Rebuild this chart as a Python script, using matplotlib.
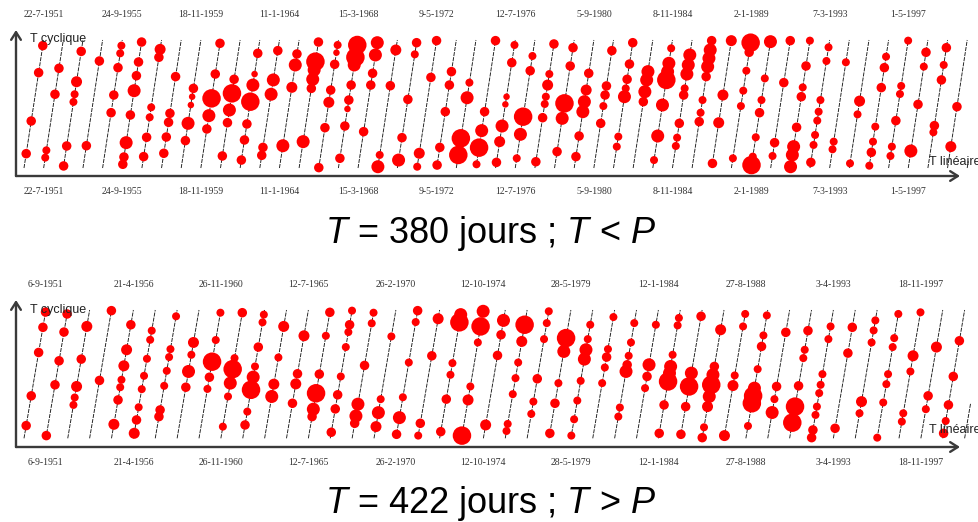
import matplotlib
matplotlib.use("Agg")
import matplotlib.pyplot as plt
import numpy as np

plt.rcParams['mathtext.fontset'] = 'custom'
plt.rcParams['mathtext.it'] = 'Liberation Sans:italic'
plt.rcParams['mathtext.rm'] = 'Liberation Sans'
plt.rcParams['font.family'] = ['Liberation Sans', 'DejaVu Sans']

# ---------------- data ----------------
span_days = 18260  # total linear time span covered

# T = 380 days: per cycle, phase (0..1) of each event and magnitude class
period_a = 380
labels_a = ["22-7-1951", "24-9-1955", "18-11-1959", "11-1-1964", "15-3-1968", "9-5-1972",
            "12-7-1976", "5-9-1980", "8-11-1984", "2-1-1989", "7-3-1993", "1-5-1997"]
phase_a = [
    [0.956, 0.745, 0.367, 0.112],
    [0.779, 0.576, 0.138, 0.081],
    [0.911, 0.674, 0.576, 0.516, 0.172, 0.016],
    [0.836, 0.174],
    [0.956, 0.896, 0.784, 0.570, 0.432],
    [0.198, 0.086, 0.029, 0.984, 0.828, 0.721, 0.604, 0.414],
    [0.474, 0.396, 0.240, 0.089, 0.927, 0.865],
    [0.714, 0.427, 0.357, 0.242, 0.115],
    [0.622, 0.557, 0.492, 0.349, 0.214],
    [0.974, 0.734, 0.544, 0.409, 0.305],
    [0.693, 0.583, 0.453, 0.354, 0.094],
    [0.734, 0.648, 0.518, 0.344, 0.219, 0.062, 0.896],
    [0.688, 0.576, 0.161, 0.099, 0.917],
    [0.891, 0.805, 0.630, 0.174],
    [0.984, 0.831, 0.766, 0.693, 0.622, 0.206],
    [0.961, 0.901, 0.810, 0.609, 0.513, 0.315, 0.003],
    [0.961, 0.865, 0.805, 0.648, 0.531, 0.461, 0.328, 0.076],
    [0.979, 0.883, 0.740, 0.648, 0.284],
    [0.102, 0.010, 0.922, 0.643],
    [0.979, 0.888, 0.536, 0.237, 0.062],
    [0.995, 0.708, 0.115, 0.010],
    [0.753, 0.648, 0.440, 0.161, 0.023],
    [0.667, 0.549, 0.232, 0.102],
    [0.440, 0.292, 0.159, 0.029, 0.995],
    [0.961, 0.823, 0.557, 0.497, 0.328, 0.206, 0.044],
    [0.875, 0.760, 0.401, 0.263, 0.076],
    [0.049, 0.969, 0.734, 0.648, 0.557, 0.500, 0.393],
    [0.940, 0.797, 0.505, 0.388, 0.128],
    [0.740, 0.609, 0.518, 0.440, 0.250, 0.089],
    [0.917, 0.641, 0.570, 0.484, 0.349],
    [0.979, 0.812, 0.693, 0.622, 0.557, 0.245, 0.167],
    [0.753, 0.688, 0.596, 0.518],
    [0.062, 0.935, 0.818, 0.753, 0.688, 0.492, 0.250],
    [0.883, 0.805, 0.734, 0.622, 0.570, 0.349, 0.237, 0.172],
    [0.995, 0.922, 0.857, 0.792, 0.714, 0.531, 0.432, 0.362],
    [0.036, 0.354, 0.570, 0.995],
    [0.979, 0.904, 0.760, 0.604, 0.484, 0.076],
    [0.987, 0.700, 0.531, 0.432, 0.240, 0.089, 0.023],
    [0.995, 0.667, 0.198, 0.094],
    [0.995, 0.797, 0.630, 0.557, 0.318, 0.167, 0.102, 0.010],
    [0.044, 0.180, 0.258, 0.370, 0.440, 0.531, 0.836, 0.943],
    [0.826, 0.206, 0.146],
    [0.036, 0.419, 0.523],
    [0.018, 0.122, 0.206, 0.323, 0.628, 0.784, 0.870],
    [0.094, 0.167, 0.370, 0.578, 0.641, 0.995],
    [0.133, 0.497, 0.792, 0.904],
    [0.279, 0.331, 0.688, 0.805, 0.940],
    [0.167, 0.479],
]
mag_a = [
    [3, 3, 3, 3],
    [3, 3, 2, 2],
    [3, 4, 2, 2, 3, 3],
    [3, 3],
    [2, 2, 3, 3, 3],
    [5, 3, 3, 3, 3, 3, 5, 3],
    [2, 2, 3, 3, 4, 3],
    [3, 3, 3, 3, 3],
    [3, 1, 1, 5, 3],
    [3, 3, 6, 5, 3],
    [3, 6, 5, 3, 3],
    [1, 5, 6, 3, 3, 3, 3],
    [5, 5, 3, 3, 3],
    [3, 5, 4, 5],
    [3, 6, 5, 5, 3, 5],
    [2, 1, 3, 3, 4, 3, 3],
    [6, 6, 5, 3, 3, 1, 3, 3],
    [5, 5, 3, 3, 3],
    [2, 5, 4, 3],
    [3, 2, 3, 3, 5],
    [3, 3, 4, 2],
    [3, 3, 3, 3, 3],
    [2, 5, 6, 6],
    [3, 5, 6, 2, 3],
    [2, 3, 1, 1, 5, 4, 3],
    [2, 3, 6, 5, 2],
    [3, 3, 2, 4, 2, 2, 3],
    [3, 3, 6, 5, 3],
    [3, 4, 5, 5, 3, 3],
    [3, 3, 3, 2, 3],
    [3, 3, 3, 2, 5, 2, 2],
    [5, 5, 5, 3],
    [2, 2, 5, 5, 6, 5, 5],
    [5, 5, 5, 2, 3, 3, 2, 2],
    [3, 5, 5, 5, 3, 2, 2, 3],
    [3, 4, 4, 4],
    [6, 3, 2, 2, 2, 2],
    [5, 2, 2, 3, 2, 2, 6],
    [3, 3, 3, 2],
    [2, 3, 2, 3, 3, 5, 5, 5],
    [3, 2, 2, 2, 2, 2, 2, 2],
    [2, 2, 2],
    [2, 2, 4],
    [2, 3, 2, 2, 3, 3, 2],
    [2, 2, 3, 2, 2, 2],
    [5, 3, 2, 3],
    [2, 3, 3, 2, 3],
    [4, 3],
]

# T = 422 days
period_b = 422
labels_b = ["6-9-1951", "21-4-1956", "26-11-1960", "12-7-1965", "26-2-1970", "12-10-1974",
            "28-5-1979", "12-1-1984", "27-8-1988", "3-4-1993", "18-11-1997"]
phase_b = [
    [0.984, 0.865, 0.669, 0.331, 0.099],
    [0.969, 0.828, 0.604, 0.417, 0.021],
    [0.872, 0.617, 0.404, 0.318, 0.260],
    [0.995, 0.451],
    [0.885, 0.690, 0.565, 0.456, 0.398, 0.299, 0.109],
    [0.839, 0.768, 0.620, 0.487, 0.383, 0.242, 0.143, 0.039],
    [0.951, 0.695, 0.633, 0.526, 0.409, 0.221, 0.169],
    [0.747, 0.651, 0.521, 0.398],
    [0.979, 0.766, 0.597, 0.476, 0.385],
    [0.979, 0.625, 0.539, 0.430, 0.326, 0.091],
    [0.964, 0.904, 0.711, 0.560, 0.477, 0.378, 0.208, 0.104],
    [0.872, 0.630, 0.422, 0.326],
    [0.799, 0.503, 0.424, 0.273],
    [0.982, 0.799, 0.500, 0.351, 0.227, 0.169],
    [0.047, 0.995, 0.885, 0.828, 0.711, 0.482, 0.339, 0.229],
    [0.979, 0.896, 0.568, 0.266, 0.174, 0.117],
    [0.794, 0.305, 0.200, 0.091],
    [0.995, 0.906, 0.591, 0.320, 0.161, 0.031],
    [0.932, 0.643, 0.117, 0.021],
    [0.964, 0.904, 0.586, 0.495, 0.305, 0.052],
    [0.990, 0.872, 0.747, 0.404, 0.299, 0.021],
    [0.919, 0.807, 0.646, 0.104],
    [0.885, 0.755, 0.591, 0.469, 0.344, 0.112, 0.057],
    [0.190, 0.286, 0.464, 0.773, 0.898, 0.990],
    [0.039, 0.273, 0.430, 0.677, 0.781],
    [0.021, 0.148, 0.294, 0.448, 0.617, 0.690, 0.773, 0.885],
    [0.430, 0.552, 0.633, 0.695, 0.945],
    [0.169, 0.240, 0.521, 0.573, 0.643, 0.747, 0.898],
    [0.573, 0.482, 0.391, 0.885],
    [0.039, 0.260, 0.443, 0.508, 0.560, 0.651, 0.880, 0.938],
    [0.031, 0.247, 0.404, 0.508, 0.951],
    [0.005, 0.086, 0.247, 0.326, 0.417, 0.495, 0.560, 0.846],
    [0.021, 0.411, 0.490, 0.872, 0.969],
    [0.096, 0.273, 0.331, 0.391, 0.539, 0.716, 0.802, 0.958],
    [0.201, 0.305, 0.404, 0.826],
    [0.122, 0.247, 0.409, 0.625, 0.690, 0.839],
    [0.005, 0.065, 0.182, 0.247, 0.352, 0.417, 0.500, 0.773, 0.872],
    [0.078, 0.664, 0.865],
    [0.195, 0.286, 0.747, 0.841, 0.919],
    [0.005, 0.279, 0.422, 0.500, 0.711, 0.781, 0.969],
    [0.130, 0.195, 0.521, 0.643, 0.982],
    [0.227, 0.331, 0.711],
    [0.039, 0.135, 0.260, 0.482, 0.760],
]
mag_b = [
    [3, 3, 3, 3, 3],
    [3, 3, 3, 3, 3],
    [4, 3, 4, 2, 2],
    [3, 3],
    [3, 4, 4, 2, 2, 3, 4],
    [2, 2, 2, 2, 2, 2, 3, 4],
    [2, 2, 2, 2, 2, 3, 3],
    [4, 2, 5, 3],
    [2, 2, 6, 3, 2],
    [3, 2, 6, 5, 2, 2],
    [2, 2, 3, 2, 5, 6, 2, 3],
    [4, 2, 4, 5],
    [4, 3, 4, 3],
    [3, 2, 3, 6, 5, 3],
    [3, 2, 3, 2, 2, 2, 3, 3],
    [2, 2, 3, 5, 5, 3],
    [2, 2, 5, 4],
    [3, 2, 2, 2, 5, 3],
    [4, 3, 3, 2],
    [5, 6, 2, 2, 3, 3],
    [5, 6, 2, 2, 4, 6],
    [5, 3, 3, 4],
    [6, 4, 2, 2, 2, 2, 2],
    [2, 2, 3, 2, 2, 2],
    [3, 3, 2, 5, 6],
    [2, 2, 2, 2, 5, 5, 2, 2],
    [2, 2, 3, 2, 2],
    [2, 2, 5, 3, 2, 2, 2],
    [5, 3, 2, 2],
    [3, 3, 6, 5, 5, 2, 2, 2],
    [3, 3, 6, 5, 3],
    [3, 2, 4, 5, 6, 5, 3, 4],
    [4, 4, 2, 2, 2],
    [2, 6, 6, 5, 2, 3, 2, 2],
    [5, 2, 3, 3],
    [6, 6, 3, 2, 2, 3],
    [3, 3, 2, 2, 2, 2, 2, 2, 2],
    [3, 3, 3],
    [2, 4, 2, 2, 2],
    [2, 2, 2, 2, 2, 2, 2],
    [2, 2, 2, 4, 2],
    [2, 3, 4],
    [3, 2, 3, 3, 3],
]

# ---------------- style ----------------
mag_diam_px = {1: 6.5, 2: 8.0, 3: 9.5, 4: 11.0, 5: 13.0, 6: 18.5}
W, H, DPI = 979, 522, 100
fig = plt.figure(figsize=(W / DPI, H / DPI), dpi=DPI)
fig.patch.set_facecolor('white')


def rect(left, top, right, bottom):
    return [left / W, 1 - bottom / H, (right - left) / W, (bottom - top) / H]


def panel(ax_box, origin, cyc_w, cyc_h, period, phases, mags, labels, title, title_base,
          ylab_y, tlin_y):
    left, top, right, bottom = ax_box
    ox, oy = origin
    ax = fig.add_axes(rect(left, top, right, bottom))
    ax.set_xlim((left - ox) / cyc_w, (right - ox) / cyc_w)
    ax.set_ylim((oy - bottom) / cyc_h, (oy - top) / cyc_h)
    ax.patch.set_alpha(0)
    for s in ax.spines.values():
        s.set_visible(False)

    n_cyc = span_days / period
    k = 0
    while k < n_cyc:
        end = min(1.0, n_cyc - k)
        ax.plot([k, k + end], [0, end], color='#1a1a1a', lw=0.65,
                linestyle=(0, (4.5, 1.2)), zorder=1, clip_on=False)
        k += 1

    xs, ys, ss = [], [], []
    for c, (ph, mg) in enumerate(zip(phases, mags)):
        for p, m in zip(ph, mg):
            xs.append(c + p)
            ys.append(p)
            ss.append((mag_diam_px[m] * 72 / DPI) ** 2)
    ax.scatter(xs, ys, s=ss, color='#ff0000', edgecolors='none', zorder=3, clip_on=False)

    ticks = [1 + 4 * i for i in range(len(labels))]
    ax.set_yticks([])
    ax.set_xticks(ticks)
    ax.set_xticklabels(labels, family='Liberation Serif', fontsize=7, color='#333333')
    ax.tick_params(axis='x', length=0, pad=8, labeltop=True, labelbottom=True)

    # axes arrows
    ap = dict(arrowstyle='->,head_length=0.55,head_width=0.35', lw=1.7, color='#3a3a3a',
              shrinkA=0, shrinkB=0)
    ax.annotate('', xy=((960 - left) / (right - left), 0), xytext=(0, 0),
                xycoords='axes fraction', textcoords='axes fraction', arrowprops=ap,
                annotation_clip=False)
    ax.annotate('', xy=(0, 1), xytext=(0, 0), xycoords='axes fraction',
                textcoords='axes fraction', arrowprops=ap, annotation_clip=False)

    fig.text(30 / W, 1 - ylab_y / H, 'T cyclique', fontsize=9, color='#222222',
             va='center', ha='left')
    fig.text(929 / W, 1 - tlin_y / H, 'T linéaire', fontsize=9, color='#222222',
             va='center', ha='left')
    fig.text(491 / W, 1 - title_base / H, title, fontsize=26, ha='center',
             va='baseline', color='black')
    return ax


panel((16, 30, 975, 176), (24, 168), 19.65, 128, period_a, phase_a, mag_a, labels_a,
      '$T$ = 380 jours ; $T$ < $P$', 243, 39, 162)
panel((16, 300, 975, 447), (24, 438.3), 21.875, 128.3, period_b, phase_b, mag_b, labels_b,
      '$T$ = 422 jours ; $T$ > $P$', 513, 310, 430)

fig.savefig('out.png', dpi=DPI, facecolor='white')
